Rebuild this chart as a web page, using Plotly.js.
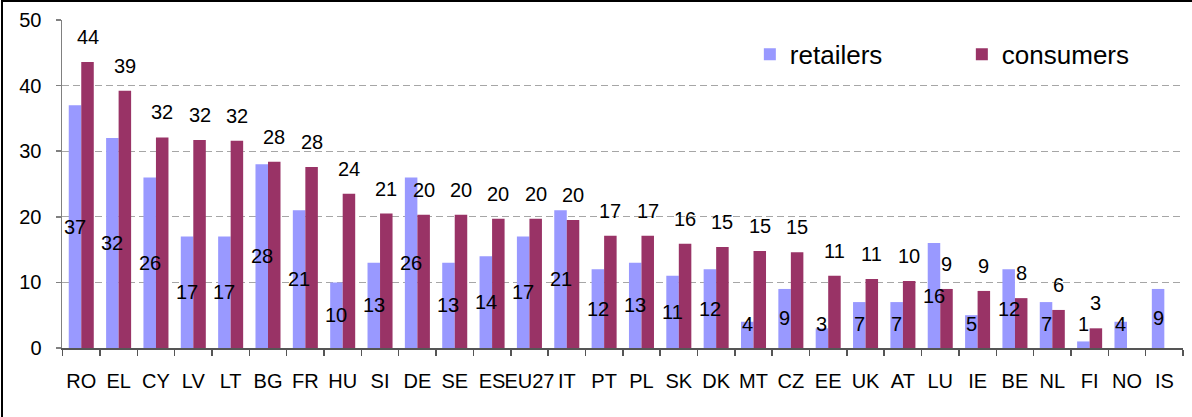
<!DOCTYPE html>
<html>
<head>
<meta charset="utf-8">
<script src="https://cdn.plot.ly/plotly-3.0.1.min.js"></script>
<style>
  html, body { margin: 0; padding: 0; background: #fff; }
  #wrap { position: relative; width: 1192px; height: 417px; overflow: hidden; }
  #chart { width: 1192px; height: 417px; }
  #frame { position: absolute; left: 1px; top: 0px; width: 1300px; height: 500px;
           border-left: 2px solid #000; border-top: 2px solid #000; pointer-events: none; }
</style>
</head>
<body>
<div id="wrap">
  <div id="chart"></div>
  <div id="frame"></div>
</div>
<script>
const categories = ["RO","EL","CY","LV","LT","BG","FR","HU","SI","DE","SE","ES","EU27","IT","PT","PL","SK","DK","MT","CZ","EE","UK","AT","LU","IE","BE","NL","FI","NO","IS"];
const retailers = [37,32,26,17,17,28,21,10,13,26,13,14,17,21,12,13,11,12,4,9,3,7,7,16,5,12,7,1,4,9];
const consumers = [43.6,39.2,32.1,31.7,31.6,28.4,27.6,23.5,20.5,20.3,20.3,19.7,19.7,19.5,17.1,17.1,15.9,15.4,14.8,14.6,11.0,10.5,10.2,9.0,8.7,7.6,5.8,3.0,null,null];
const yTicks = [0,10,20,30,40,50];

const RET_COLOR = "#9999FF";
const CON_COLOR = "#993366";
const FONT = "Liberation Sans, Arial, sans-serif";

const traces = [
  { type: "bar", name: "retailers", x: categories, y: retailers,
    marker: { color: RET_COLOR }, hoverinfo: "x+y" },
  { type: "bar", name: "consumers", x: categories, y: consumers,
    marker: { color: CON_COLOR }, hoverinfo: "x+y" }
];

const barShift = 6.26;
const annotations = [];
categories.forEach((c, i) => {
  const r = retailers[i];
  if (r !== null) {
    annotations.push({ x: c, y: Math.max(r / 2, 3.65), xref: "x", yref: "y",
      text: String(r), showarrow: false, xshift: -barShift, yanchor: "middle",
      font: { family: FONT, size: 20, color: "#000" } });
  }
  const v = consumers[i];
  if (v !== null) {
    annotations.push({ x: c, y: v, xref: "x", yref: "y",
      text: String(Math.round(v)), showarrow: false, xshift: barShift, yanchor: "middle", yshift: 25,
      font: { family: FONT, size: 20, color: "#000" } });
  }
});

const layout = {
  width: 1192, height: 417,
  margin: { l: 62, r: 9, t: 20, b: 69, autoexpand: false },
  paper_bgcolor: "#fff", plot_bgcolor: "#fff",
  font: { family: FONT, size: 20, color: "#000" },
  barmode: "group", bargap: 0.33, bargroupgap: 0,
  showlegend: true,
  legend: { orientation: "h", x: 0.6136, y: 0.895, xanchor: "left", yanchor: "middle",
    font: { family: FONT, size: 26, color: "#000" }, entrywidth: 167,
    bgcolor: "rgba(0,0,0,0)", itemclick: false },
  xaxis: { type: "category", tickson: "boundaries", ticks: "outside", ticklen: 6,
    tickcolor: "#555", tickwidth: 1.5, showline: true, linecolor: "#555", linewidth: 1.5,
    showgrid: false, tickfont: { family: FONT, size: 20 }, ticklabelstandoff: 14,
    tickangle: 0, automargin: false, fixedrange: true },
  yaxis: { range: [0, 50], tickvals: yTicks, ticks: "outside", ticklen: 5,
    tickcolor: "#808080", tickwidth: 1.5, showline: true, linecolor: "#808080", linewidth: 1.5,
    showgrid: true, gridcolor: "#A6A6A6", gridwidth: 1, griddash: "7px,4px",
    zeroline: false, tickfont: { family: FONT, size: 20 }, ticklabelstandoff: 10,
    automargin: false, fixedrange: true },
  annotations: annotations
};

Plotly.newPlot("chart", traces, layout, { displayModeBar: false, staticPlot: true });
</script>
</body>
</html>
